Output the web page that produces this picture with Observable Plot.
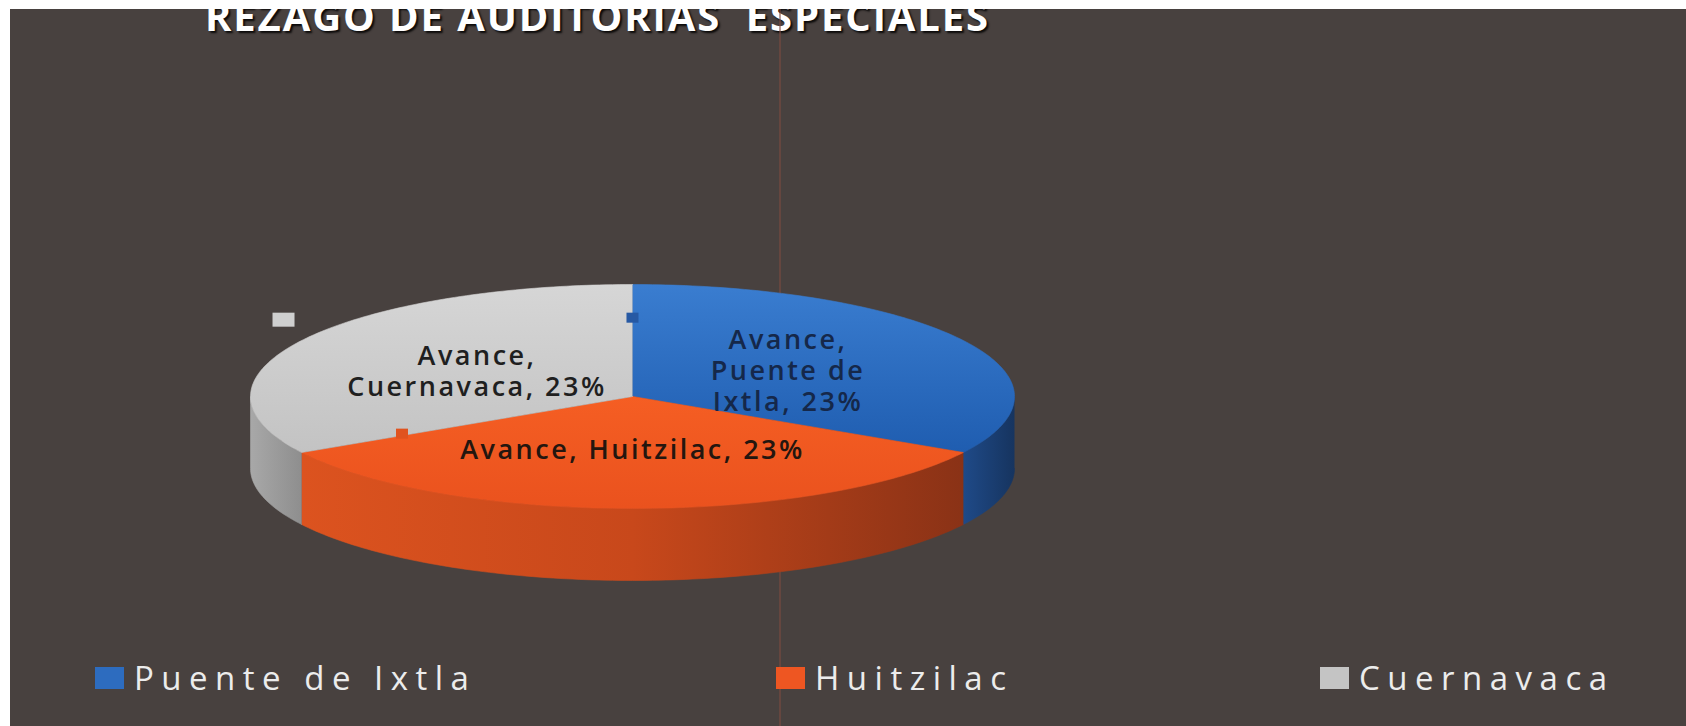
<!DOCTYPE html>
<html><head><meta charset="utf-8">
<script src="https://cdn.jsdelivr.net/npm/d3@7"></script>
<script src="https://cdn.jsdelivr.net/npm/@observablehq/plot@0.6"></script>
<style>
html,body{margin:0;padding:0;background:#fff;}
#page{position:relative;width:1686px;height:726px;overflow:hidden;background:#fff;}
#frame{position:absolute;left:10px;top:9px;right:0;bottom:0;background:#48413f;overflow:hidden;}
#title{position:absolute;left:195px;top:-13.5px;font-family:"Open Sans";font-weight:700;font-size:40px;line-height:40px;letter-spacing:1.9px;color:#fff;white-space:pre;text-shadow:2px 2px 2px rgba(0,0,0,.85);}
#fold{position:absolute;left:769px;top:0;bottom:0;width:2px;background:rgba(125,75,64,.55);}
#chart{position:absolute;left:0;top:0;}
#chart svg{display:block;}
#chart g[aria-label="text"] text{letter-spacing:2.5px;}
.leg-sw{position:absolute;width:29px;height:22px;}
.leg-tx{position:absolute;font-family:"Open Sans";font-size:33px;line-height:33px;letter-spacing:7.5px;color:#ececec;white-space:pre;}
</style>
</head><body>
<div id="page">
  <div id="frame"><div id="title"></div><div id="fold"></div></div>
  <div id="chart"></div>
  <div id="legend"></div>
</div>
<script>
// ---- data ----
const titleText = "REZAGO DE AUDITORIAS  ESPECIALES";
const seriesName = "Avance";
const categories = ["Puente de Ixtla", "Huitzilac", "Cuernavaca"];
const values = [23, 23, 23];
const labelTexts = ["Avance,\nPuente de\nIxtla, 23%", "Avance, Huitzilac, 23%", "Avance,\nCuernavaca, 23%"];

// ---- styles ----
const legendColors = ["#2d6cbf", "#ee5622", "#c4c4c4"];
const labelColors = ["#15284a", "#24160f", "#1f1f1f"];
const keyColors = ["#2759a3", "#e0531f", "#cfcfcf"];
const topStops = [
  [[0, "#3a7dd0"], [1, "#1f5db0"]],
  [[0, "#f55e23"], [1, "#ea521e"]],
  [[0, "#d6d6d6"], [1, "#c3c3c3"]]
];
const sideStops = [
  [[0, "#1f4a88"], [1, "#16345f"]],
  [[0, "#dc531f"], [0.5, "#c8481b"], [1, "#8a3216"]],
  [[0, "#a8a8a8"], [1, "#8e8e8e"]]
];
const keyOffsets = [[-155, -52], [-230, -15], [-193, -50]];

// ---- layout ----
const cx = 632, cy = 396, rx = 382, ry = 112, depth = 72;
const dz = depth / ry;
const labelR = 0.47;

document.getElementById("title").textContent = titleText;

const total = d3.sum(values);
let acc = 0;
const slices = values.map((v, i) => {
  const a0 = acc / total * 2 * Math.PI; acc += v;
  const a1 = acc / total * 2 * Math.PI;
  const am = (a0 + a1) / 2;
  return {i, a0, a1, name: categories[i], value: v, label: labelTexts[i],
          lu: labelR * Math.sin(am), lv: -labelR * Math.cos(am)};
});
const pt = (a, off = 0) => ({u: Math.sin(a), v: -Math.cos(a) + off});
function arc(a0, a1, off = 0) {
  const n = Math.max(2, Math.ceil((a1 - a0) / (Math.PI / 180)));
  return d3.range(n + 1).map(k => pt(a0 + (a1 - a0) * k / n, off));
}
const tops = slices.map(s => [{u: 0, v: 0}, ...arc(s.a0, s.a1)]);
const sides = slices.map(s => {
  const s0 = Math.max(s.a0, Math.PI / 2), s1 = Math.min(s.a1, 3 * Math.PI / 2);
  if (s1 <= s0) return [];
  return [...arc(s0, s1), ...arc(s0, s1, dz).reverse()];
});

const marks = [];
sides.forEach((pts, i) => {
  if (pts.length) marks.push(Plot.line(pts, {x: "u", y: "v", fill: `url(#side${i})`, stroke: `url(#side${i})`, strokeWidth: 0.6}));
});
tops.forEach((pts, i) => {
  marks.push(Plot.line(pts, {x: "u", y: "v", fill: `url(#top${i})`, stroke: `url(#top${i})`, strokeWidth: 0.6}));
});
slices.forEach((s, i) => {
  marks.push(Plot.rect([s], {x1: "lu", x2: "lu", y1: "lv", y2: "lv",
    insetLeft: -(i === 2 ? 11 : 6), insetRight: -(i === 2 ? 11 : 6), insetTop: -(i === 2 ? 7 : 5), insetBottom: -(i === 2 ? 7 : 5),
    dx: keyOffsets[i][0], dy: keyOffsets[i][1], fill: keyColors[i]}));
  marks.push(Plot.text([s], {x: "lu", y: "lv", text: "label", fill: labelColors[i],
    fontSize: 27, fontWeight: 600, fontFamily: "Open Sans", lineHeight: 1.15, textAnchor: "middle"}));
});

const chart = Plot.plot({
  width: 1686, height: 726, margin: 0,
  x: {domain: [-1, 1], range: [cx - rx, cx + rx], axis: null},
  y: {domain: [-1, 1], range: [cy - ry, cy + ry], axis: null},
  style: {background: "transparent", overflow: "visible"},
  marks
});
const defs = d3.select(chart).insert("defs", ":first-child");
function lg(id, stops, horiz) {
  const g = defs.append("linearGradient").attr("id", id)
    .attr("x1", 0).attr("y1", 0).attr("x2", horiz ? 1 : 0).attr("y2", horiz ? 0 : 1);
  stops.forEach(([o, c]) => g.append("stop").attr("offset", o).attr("stop-color", c));
}
topStops.forEach((st, i) => lg(`top${i}`, st, false));
sideStops.forEach((st, i) => lg(`side${i}`, st, true));
document.getElementById("chart").appendChild(chart);

// ---- legend ----
const legX = [95, 776, 1320];
const leg = d3.select("#legend");
categories.forEach((c, i) => {
  leg.append("div").attr("class", "leg-sw")
    .style("left", legX[i] + "px").style("top", "667px").style("background", legendColors[i]);
  leg.append("div").attr("class", "leg-tx")
    .style("left", (legX[i] + 39) + "px").style("top", "661px").text(c);
});
</script>
</body></html>
